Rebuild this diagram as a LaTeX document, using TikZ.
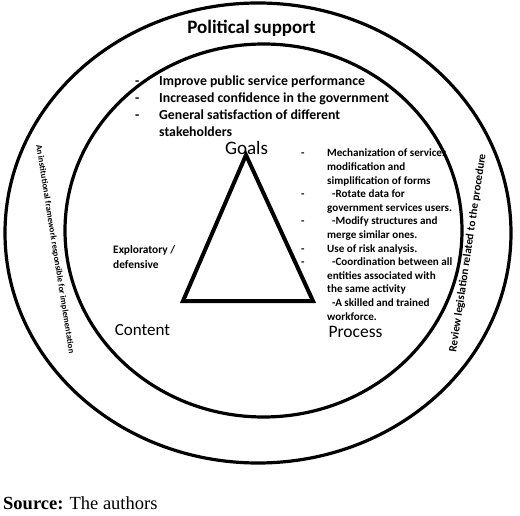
\documentclass[tikz,border=0pt]{standalone}
\usepackage{fontspec}
\setmainfont{Carlito}
\newfontfamily\srcfont{Liberation Serif}

\tikzset{
    ring/.style={line width=3.2pt},
    bold list/.style={anchor=base west, inner sep=0pt, font=\bfseries#1},
}

\begin{document}
\begin{tikzpicture}[x=1pt, y=-1pt]
    \useasboundingbox (0,0) rectangle (520,516);

    % goals list
    \node [bold list={\fontsize{13.8}{17}\selectfont}] (goallist) at (135, 85.5) {%
        \begin{tabular}[t]{@{}p{24pt}@{}l@{}}
        - & Improve public service performance\\
        - & Increased confidence in the government\\
        - & General satisfaction of different\\
          & stakeholders
        \end{tabular}};

    % process list
    \node [bold list={\fontsize{11.1}{13.6}\selectfont}] (proclist) at (301, 157) {%
        \begin{tabular}[t]{@{}p{26pt}@{}l@{}}
        - & Mechanization of services\\
          & modification and\\
          & simplification of forms\\
        - & \hspace{5pt}-Rotate data for\\
          & government services users.\\
        - & \hspace{5pt}-Modify structures and\\
          & merge similar ones.\\
        - & Use of risk analysis.\\
        - & \hspace{5pt}-Coordination between all\\
          & entities associated with\\
          & the same activity\\
          & \hspace{5pt}-A skilled and trained\\
          & workforce.
        \end{tabular}};

    % content note
    \node [anchor=west, inner sep=0pt, align=left, font=\bfseries\fontsize{11.4}{15}\selectfont]
        (explor) at (113, 257) {Exploratory /\\defensive};

    % corners of the triangle
    \node [font=\fontsize{19}{22}\selectfont] (goals) at (246.5, 148) {Goals};
    \node [font=\fontsize{17}{20}\selectfont] (content) at (142.5, 330) {Content};
    \node [font=\fontsize{17.5}{20}\selectfont] (process) at (355.5, 332) {Process};
    \draw [line width=4pt] (246, 155) -- (183, 301) -- (313, 301) -- cycle;

    % rings
    \node [font=\bfseries\fontsize{19}{22}\selectfont] (political) at (251.5, 28) {Political support};
    \node [rotate=-81, font=\bfseries\fontsize{8.6}{10}\selectfont] (framework) at (55, 249)
        {An institutional framework responsible for implementation};
    \node [rotate=81.5, font=\bfseries\fontsize{11.2}{13}\selectfont] (legislation) at (468, 253)
        {Review legislation related to the procedure};
    \draw [ring] (258, 233) ellipse [x radius=253pt, y radius=230pt];
    \draw [ring] (263.5, 230.5) ellipse [x radius=198.5pt, y radius=186.5pt];

    % source
    \node [anchor=west, inner sep=0pt, font=\srcfont\fontsize{18.5}{22}\selectfont] (source) at (3, 503)
        {\textbf{Source:} The authors};
\end{tikzpicture}
\end{document}
